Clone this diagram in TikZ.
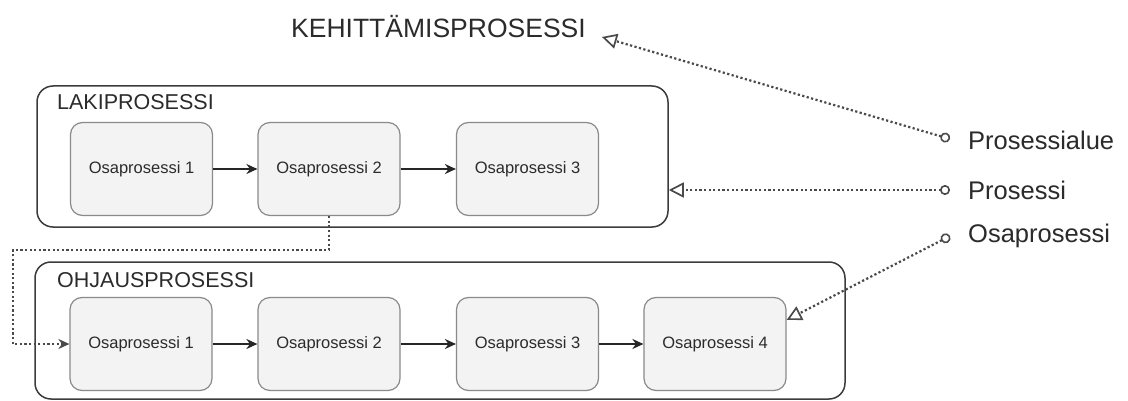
\documentclass[tikz,border=0pt]{standalone}
\usepackage{fontspec}
\setmainfont{Liberation Sans}
\usetikzlibrary{arrows.meta}
\definecolor{ink}{HTML}{2B2B2B}
\definecolor{frame}{HTML}{3C3C3C}
\definecolor{subedge}{HTML}{8A8A8A}
\definecolor{subfill}{HTML}{F3F3F3}
\definecolor{dots}{HTML}{4A4A4A}
\tikzset{
  areabox/.style={draw=frame, line width=1.5pt, rounded corners=16pt, inner sep=0pt},
  areatitle/.style={anchor=west, text=ink, font=\fontsize{21.5}{24}\selectfont, inner sep=0pt},
  subbox/.style={draw=subedge, fill=subfill, line width=1.2pt, rounded corners=12pt,
    minimum width=142pt, minimum height=93pt, inner sep=0pt, text=ink,
    font=\fontsize{16.5}{19}\selectfont},
  flow/.style={-{Stealth[length=11pt,width=10pt]}, line width=1.7pt, black!85},
  dotlink/.style={dots, line width=2.2pt, dash pattern=on 2.2pt off 2.4pt},
  legend/.style={anchor=west, text=ink, font=\fontsize{25.5}{28}\selectfont, inner sep=0pt},
  refarrow/.style={dotlink, {Circle[open, length=10pt, width=10pt, line width=1.6pt]}-{Triangle[open, length=15pt, width=15pt, line width=1.7pt]}}
}
\begin{document}
\begin{tikzpicture}[x=1pt, y=-1pt]
\useasboundingbox (0,0) rectangle (1128,401);
\fill[white] (0,0) rectangle (1128,401);

% main heading
\node[anchor=base west, text=ink, font=\fontsize{26.5}{30}\selectfont, inner sep=0pt]
  (title) at (291,38) {KEHITTÄMISPROSESSI};

% process areas
\node[areabox, minimum width=631pt, minimum height=141pt] (laki) at (352.5,156.5) {};
\node[areatitle] (lakititle) at (57,102) {LAKIPROSESSI};

\node[areabox, minimum width=810pt, minimum height=137pt] (ohjaus) at (440,330.5) {};
\node[areatitle] (ohjaustitle) at (57,280) {OHJAUSPROSESSI};

% sub-processes, first row
\node[subbox] (l1) at (141.5,169) {Osaprosessi 1};
\node[subbox] (l2) at (329,169) {Osaprosessi 2};
\node[subbox] (l3) at (527.5,169) {Osaprosessi 3};

% sub-processes, second row
\node[subbox] (o1) at (141,344) {Osaprosessi 1};
\node[subbox] (o2) at (329,344) {Osaprosessi 2};
\node[subbox] (o3) at (527.5,344) {Osaprosessi 3};
\node[subbox] (o4) at (715,344) {Osaprosessi 4};

\draw[flow] (l1) -- (l2);
\draw[flow] (l2) -- (l3);
\draw[flow] (o1) -- (o2);
\draw[flow] (o2) -- (o3);
\draw[flow] (o3) -- (o4);

% hand-over between the two areas
\coordinate (jog) at (13,250);
\draw[dotlink, -{Stealth[length=11pt,width=10pt]}] (l2.south) |- (jog) |- (o1.west);

% legend
\node[legend] (area) at (968,140) {Prosessialue};
\node[legend] (proc) at (968,190) {Prosessi};
\node[legend] (sub) at (968,236) {Osaprosessi};

\coordinate (cArea) at (950,139);
\coordinate (cProc) at (950,190);
\coordinate (cSub) at (950,236);

\draw[refarrow] (cArea) -- ([xshift=16pt, yshift=1pt]title.base east);
\draw[refarrow] (cProc) -- (cProc -| laki.east);
\draw[refarrow] (cSub) -- ([yshift=24pt]o4.east);
\end{tikzpicture}
\end{document}
